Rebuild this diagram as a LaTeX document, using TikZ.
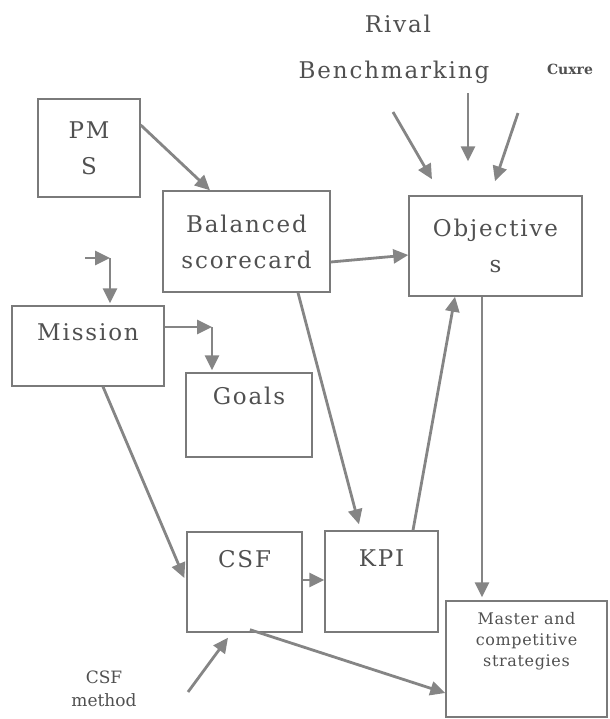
\documentclass[tikz,border=0pt]{standalone}
\usepackage{fontspec}
\setmainfont{DejaVu Serif}[LetterSpace=8]
\newfontfamily\smallserif{DejaVu Serif}[LetterSpace=4]
\newfontfamily\plainserif{DejaVu Serif}
\newfontfamily\tagfont{DejaVu Serif Bold}
\usetikzlibrary{arrows.meta}
\definecolor{inkgray}{HTML}{505050}
\definecolor{framegray}{HTML}{7A7A7A}
\definecolor{arrowgray}{HTML}{858585}
\tikzset{
  box/.style={draw=framegray, line width=0.7pt, inner sep=0pt, text=inkgray,
    font=\fontsize{11.5}{18}\selectfont, align=center},
  txt/.style={text=inkgray, inner sep=0pt, font=\fontsize{11.5}{18}\selectfont, align=center},
  arr/.style={draw=arrowgray, line width=1.4pt,
    -{Triangle[length=7.5pt,width=7pt]}},
}
\begin{document}
\begin{tikzpicture}[x=0.5pt,y=-0.5pt]
\path[use as bounding box] (0,0) rectangle (610,719);

% boxes
\node[box, minimum width=51pt, minimum height=49pt] (pms) at (89,148) {PM\\S};
\node[box, minimum width=83.5pt, minimum height=50.5pt] (bsc) at (246.5,241.5) {Balanced\\scorecard};
\node[box, minimum width=86.5pt, minimum height=50pt] (obj) at (495.5,246) {Objective\\s};
\node[box, minimum width=76pt, minimum height=40pt,
  label={[txt, anchor=base, yshift=-17.5pt]north:Mission}] (mission) at (88,346) {};
\node[box, minimum width=63pt, minimum height=42pt,
  label={[txt, anchor=base, yshift=-16pt]north:Goals}] (goals) at (249,415) {};
\node[box, minimum width=57.5pt, minimum height=50pt,
  label={[txt, anchor=base, yshift=-18pt]north:CSF}] (csf) at (244.5,582) {};
\node[box, minimum width=56.5pt, minimum height=50.5pt,
  label={[txt, anchor=base, yshift=-18pt]north:KPI}] (kpi) at (381.5,581.5) {};
\node[box, minimum width=80.5pt, minimum height=58pt,
  label={[txt, anchor=north, yshift=-6pt, font=\smallserif\fontsize{8}{10.5}\selectfont]north:Master and\\competitive\\strategies}] (master) at (526.5,659) {};

% free labels
\node[txt] (rival) at (398,24) {Rival};
\node[txt] (bench) at (394,72) {Benchmarking};
\node[txt, font=\tagfont\fontsize{7}{8}\selectfont] (cuxre) at (570,69) {Cuxre};
\node[txt, font=\plainserif\fontsize{8.5}{11.5}\selectfont] (csfm) at (104,689) {CSF\\method};

% free ends and elbow corners
\coordinate (inL) at (393,112);
\coordinate (inM) at (468,93);
\coordinate (inR) at (518,113);
\coordinate (mstart) at (85,258);
\coordinate (mcorner) at (110,258);
\coordinate (gcorner) at (212,327);
\coordinate (csfmtail) at (188,692);

% connectors
\draw[arr] ([shift={(0,-23)}]pms.east) -- ([shift={(-36.5,0)}]bsc.north);
\draw[arr] ([shift={(0,20.5)}]bsc.east) -- ([shift={(0,9)}]obj.west);
\draw[arr] (inL) -- ([shift={(-63.5,-16)}]obj.north);
\draw[arr] (inM) -- ([shift={(-27.5,-34)}]obj.north);
\draw[arr] (inR) -- ([shift={(-0.5,-14)}]obj.north);
\draw[arr] ([shift={(-13.5,0)}]obj.south) -- ([shift={(-44.5,-3)}]master.north);
\draw[arr] ([shift={(31.5,0)}]kpi.north) -- ([shift={(-40.5,0)}]obj.south);
\draw[arr] ([shift={(51.5,0)}]bsc.south) -- ([shift={(-22.5,-6)}]kpi.north);
\draw[arr] (mstart) -- (mcorner);
\draw[arr] (mcorner) -- ([shift={(22,-2)}]mission.north);
\draw[arr] ([shift={(0,-19)}]mission.east) -- (gcorner);
\draw[arr] (gcorner) -- ([shift={(-37,-2)}]goals.north);
\draw[arr] ([shift={(15,0)}]mission.south) -- ([shift={(-2,-4)}]csf.west);
\draw[arr] ([shift={(0,-2)}]csf.east) -- ([shift={(0,-1.5)}]kpi.west);
\draw[arr] (csfmtail) -- ([shift={(-16.5,5)}]csf.south);
\draw[arr] ([shift={(5.5,-3)}]csf.south) -- ([shift={(0,34)}]master.west);
\end{tikzpicture}
\end{document}
